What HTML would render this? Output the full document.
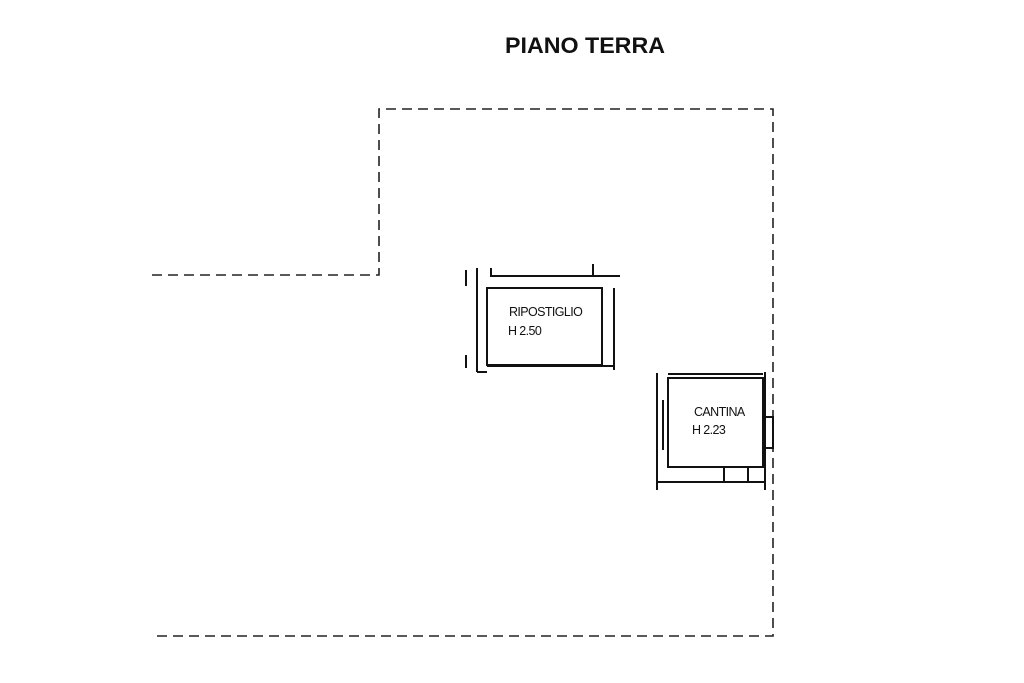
<!DOCTYPE html>
<html><head><style>body{margin:0;background:#fff}svg{display:block}</style></head><body>
<svg width="1024" height="683" viewBox="0 0 1024 683" xmlns="http://www.w3.org/2000/svg">
<rect width="1024" height="683" fill="#fff"/>
<text x="585" y="53" font-family="Liberation Sans, sans-serif" font-size="22" font-weight="bold" text-anchor="middle" fill="#111" textLength="160" lengthAdjust="spacingAndGlyphs">PIANO TERRA</text>
<g fill="none" stroke="#222" stroke-width="1.6" stroke-dasharray="10,6">
<path d="M152 275 H379 V109 H773 V636 H152"/>
</g>
<g fill="none" stroke="#111" stroke-width="2">
<rect x="487" y="288" width="115" height="77"/>
<path d="M491 268 V276 H620"/>
<path d="M593 264 V276"/>
<path d="M614 288 V370"/>
<path d="M477 268 V372"/>
<path d="M466 270 V286 M466 355 V368"/>
<path d="M487 366 H613"/>
<path d="M477 372 H487"/>
<rect x="668" y="378" width="95" height="89"/>
<path d="M668 374 H763"/>
<path d="M657 373 V490"/>
<path d="M663 400 V450"/>
<path d="M657 482 H765"/>
<rect x="724" y="467" width="24" height="15"/>
<path d="M763 417 H773 V448 H763"/>
<path d="M765 372 V490"/>
</g>
<g font-family="Liberation Sans, sans-serif" font-size="12.5" fill="#111">
<text x="509" y="316" letter-spacing="-0.6">RIPOSTIGLIO</text>
<text x="508" y="335" letter-spacing="-0.6">H 2.50</text>
<text x="694" y="416" letter-spacing="-0.6">CANTINA</text>
<text x="692" y="434" letter-spacing="-0.6">H 2.23</text>
</g>
</svg>
</body></html>
